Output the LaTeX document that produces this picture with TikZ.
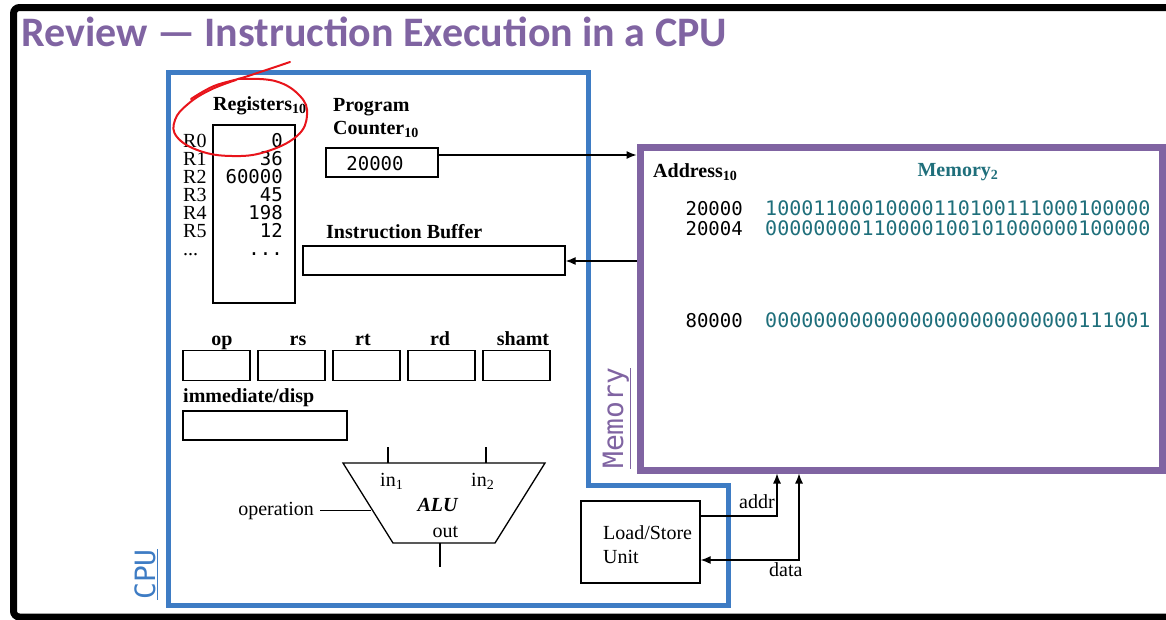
\documentclass[tikz,border=0pt]{standalone}
\usepackage{fontspec}
\setmainfont{Liberation Serif}
\setmonofont{DejaVu Sans Mono}
\newfontfamily\titlefont{Carlito}
\usetikzlibrary{positioning,arrows.meta}

\definecolor{cpublue}{HTML}{3E7CC4}
\definecolor{mempurple}{HTML}{8064A2}
\definecolor{memteal}{HTML}{1F6F7B}
\definecolor{penred}{HTML}{E8141B}

\newcommand{\trespontos}{...}

\tikzset{
  caixa/.style={draw, line width=1.3pt, inner sep=0pt},
  negrito/.style={font=\fontsize{20}{23}\selectfont\bfseries, inner sep=0pt},
  texto/.style={font=\fontsize{20}{24}\selectfont, inner sep=0pt},
  mono/.style={font=\ttfamily\fontsize{19}{21}\selectfont, inner sep=0pt},
  binario/.style={font=\ttfamily\fontsize{20}{22}\selectfont, inner sep=0pt},
  seta/.style={-{Latex[length=10pt,width=8pt]}, line width=1.2pt},
  seta2/.style={{Latex[length=10pt,width=8pt]}-{Latex[length=10pt,width=8pt]}, line width=1.2pt},
}

\begin{document}
\begin{tikzpicture}[x=1pt,y=-1pt]
\useasboundingbox (0,0) rectangle (1166,619);

\draw[line width=7pt, rounded corners=6pt] (13.5,7.5) rectangle (1200,617); % moldura
\node[anchor=base west, inner sep=0, text=mempurple, font=\titlefont\bfseries\fontsize{42}{46}\selectfont] (titulo) at (21,46) {Review — Instruction Execution in a CPU};

% CPU
\draw[cpublue, line width=5pt] (168,72) -- (588,72) -- (588,485) -- (728,485) -- (728,605) -- (168,605) -- cycle;
\node[rotate=90, anchor=base west, inner sep=0, text=cpublue, font=\ttfamily\fontsize{28}{28}\selectfont] (cpulbl) at (155,600) {\underline{CPU}};

% memoria
\node[draw=mempurple, line width=7pt, minimum width=522pt, minimum height=323pt, inner sep=0] (mem) at (901,308.5) {};
\node[rotate=90, anchor=base west, inner sep=0, text=mempurple, font=\ttfamily\fontsize{28}{28}\selectfont] (memlbl) at (623,469) {\underline{Memory}};
\node[negrito, anchor=base west] (addrtit) at (653,177) {Address\textsubscript{10}};
\node[negrito, anchor=base, text=memteal] (memtit) at (958,176) {Memory\textsubscript{2}};
\foreach \ende/\bits/\y [count=\i] in {20000/10001100010000110100111000100000/215,
                                       20004/00000000110000100101000000100000/235,
                                       80000/00000000000000000000000000111001/327}{
  \node[mono, anchor=base east] (end\i) at (743,\y) {\ende};
  \node[binario, anchor=base west, text=memteal] (bits\i) at (765,\y) {\bits};
}

% registradores
\node[negrito, anchor=base west] (regtit) at (213,110) {Registers\textsubscript{10}};
\node[caixa, minimum width=82pt, minimum height=178pt] (regs) at (254,214) {};
\foreach \r/\v [count=\i from 0] in {R0/0, R1/36, R2/60000, R3/45, R4/198, R5/12, \trespontos/\trespontos}{
  \node[texto, anchor=base west] (rn\i) at (183,147+18*\i) {\r};
  \node[mono, anchor=base east] (rv\i) at (283,147+18*\i) {\v};
}

% contador de programa
\node[negrito, anchor=base west, align=left] (pctit) at (333,134) {Program\\Counter\textsubscript{10}};
\node[caixa, minimum width=112pt, minimum height=29pt] (pc) at (382,162.5) {};
\node[mono, anchor=base] (pcval) at (375,170) {20000};
\coordinate (pcy) at (0,155);
\draw[seta] (pc.east |- pcy) -- (mem.west |- pcy);

% buffer de instrucao
\node[negrito, anchor=base west] (ibtit) at (326,238) {Instruction Buffer};
\node[caixa, minimum width=262pt, minimum height=29pt] (ib) at (434,260.5) {};
\coordinate (iby) at (0,261);
\draw[seta] (mem.west |- iby) -- (ib.east |- iby);

% campos
\foreach \nome/\cx/\lx [count=\i] in {op/216.5/222, rs/291.5/298, rt/366.5/363, rd/441.5/440, shamt/516.5/523}{
  \node[caixa, minimum width=67pt, minimum height=30pt] (campo\i) at (\cx,365.5) {};
  \node[negrito, anchor=base] (nome\i) at (\lx,345) {\nome};
}
\node[negrito, anchor=base west] (immtit) at (183,402) {immediate/disp};
\node[caixa, minimum width=164pt, minimum height=29pt] (imm) at (265,425.5) {};

% ALU
\coordinate (a1) at (343,463);
\coordinate (a2) at (545,463);
\coordinate (a3) at (495,543);
\coordinate (a4) at (393,543);
\draw[line width=1.3pt] (a1) -- (a2) -- (a3) -- (a4) -- cycle;
\draw[line width=1.3pt] (388,447) -- (388,463); % in1
\draw[line width=1.3pt] (486,447) -- (486,463); % in2
\draw[line width=1.3pt] (440,543) -- (440,567); % out
\node[texto, anchor=base west] (in1) at (380,486) {in\textsubscript{1}};
\node[texto, anchor=base west] (in2) at (471,486) {in\textsubscript{2}};
\node[texto, anchor=base, font=\fontsize{20}{24}\selectfont\bfseries\itshape] (alu) at (437.5,511) {ALU};
\node[texto, anchor=base] (out) at (445.5,537) {out};
\node[texto, anchor=base east] (oper) at (314,515) {operation};
\coordinate (opfim) at (370.5,0);
\draw[line width=1.3pt] ([xshift=6pt]oper.east) -- (oper.east -| opfim);

% load/store
\node[caixa, minimum width=119pt, minimum height=82pt] (lsu) at (640.5,542) {};
\node[texto, anchor=base west, align=left] (lstxt) at (603,563) {Load/Store\\Unit};
\coordinate (addrx) at (777,0);
\coordinate (datax) at (799,0);
\coordinate (addry) at (0,516);
\coordinate (datay) at (0,560);
\draw[seta] (lsu.east |- addry) -| (mem.south -| addrx);
\draw[seta2] (lsu.east |- datay) -| (mem.south -| datax);
\node[texto, anchor=base west] (addr) at (739,508) {addr};
\node[texto, anchor=base west] (data) at (769,576) {data};

% anotacao em vermelho
\draw[penred, line width=2pt, line cap=round] plot[smooth, tension=0.6] coordinates {(191,99) (214,86) (245,77) (290,62)};
\draw[penred, line width=2pt, line cap=round] plot[smooth, tension=0.7] coordinates {(238,79) (275,81) (300,96) (307,115) (297,136) (265,152) (232,156) (200,151) (177,137) (175,120) (188,104) (210,90) (236,80)};
\end{tikzpicture}
\end{document}
